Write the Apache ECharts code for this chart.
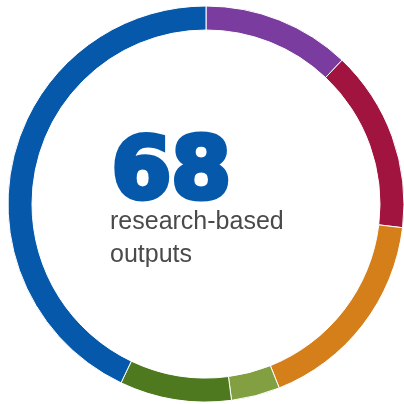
<!DOCTYPE html>
<html>
<head>
<meta charset="utf-8">
<script src="https://cdn.jsdelivr.net/npm/echarts@6/dist/echarts.min.js"></script>
<style>
  html, body { margin: 0; padding: 0; background: #ffffff; }
  #chart { width: 404px; height: 404px; }
</style>
</head>
<body>
<div id="chart"></div>
<script>
// Output counts per category, clockwise from the top
const categories = ['Category 1', 'Category 2', 'Category 3', 'Category 4', 'Category 5', 'Category 6'];
const counts = [8.2, 10.1, 11.6, 2.7, 6.2, 29.2];
const colors = ['#7A3D9F', '#A0143F', '#D57F1A', '#82A042', '#4E791E', '#0659AA'];
const totalLabel = '68';
const captionLines = ['research-based', 'outputs'];

const chart = echarts.init(document.getElementById('chart'), null, { renderer: 'canvas' });

chart.setOption({
  animation: false,
  backgroundColor: '#ffffff',
  series: [{
    type: 'pie',
    center: [206, 204],
    radius: [174, 198],
    startAngle: 90,
    clockwise: true,
    silent: true,
    label: { show: false },
    labelLine: { show: false },
    itemStyle: { borderColor: '#ffffff', borderWidth: 1 },
    data: categories.map((name, i) => ({
      name: name,
      value: counts[i],
      itemStyle: { color: colors[i] }
    }))
  }],
  graphic: [
    {
      // heavy headline figure: bold face thickened with a matching stroke
      type: 'text',
      left: 109,
      top: 130,
      style: {
        text: totalLabel,
        fill: '#0659AA',
        stroke: '#0659AA',
        lineWidth: 5,
        lineJoin: 'round',
        font: 'bold 86px "DejaVu Sans"'
      }
    },
    {
      type: 'text',
      left: 110,
      top: 206,
      style: {
        text: captionLines.join('\n'),
        fill: '#4a4a4a',
        font: '25px "Liberation Sans"',
        lineHeight: 33
      }
    }
  ]
});
</script>
</body>
</html>
